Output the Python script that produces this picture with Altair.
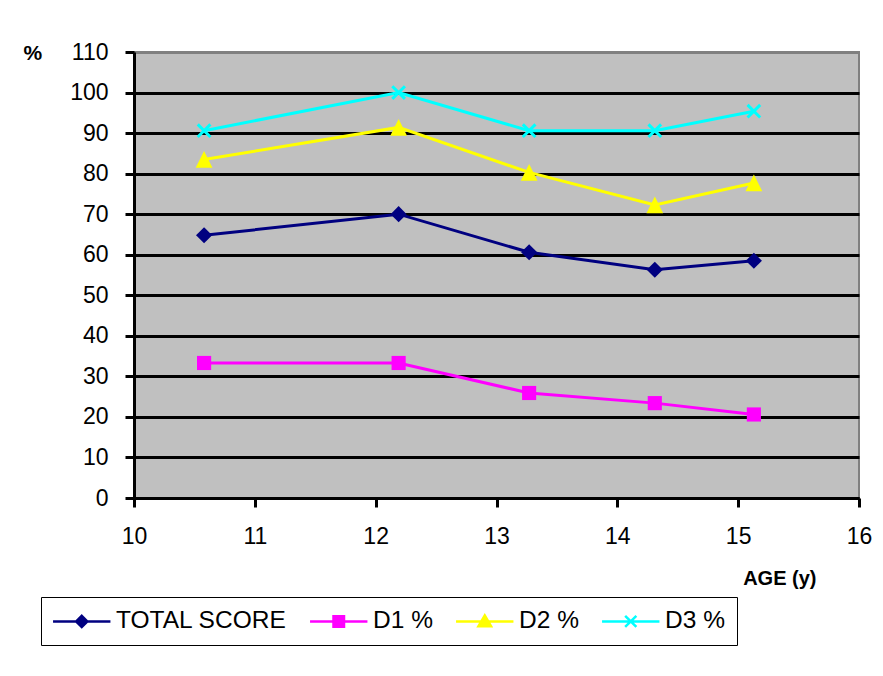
import altair as alt
import pandas as pd

# ---- data ----
ages = [10.58, 12.19, 13.27, 14.31, 15.13]
series_names = ["TOTAL SCORE", "D1 %", "D2 %", "D3 %"]
total_score = [64.8, 70.0, 60.6, 56.3, 58.5]
d1 = [33.3, 33.3, 25.9, 23.4, 20.6]
d2 = [83.5, 91.4, 80.3, 72.3, 77.7]
d3 = [90.6, 100.0, 90.6, 90.6, 95.4]
x_ticks = [10, 11, 12, 13, 14, 15, 16]
y_ticks = [0, 10, 20, 30, 40, 50, 60, 70, 80, 90, 100, 110]

colors = ["#000080", "#FF00FF", "#FFFF00", "#00FFFF"]

rows = []
for name, vals in zip(series_names, [total_score, d1, d2, d3]):
    for a, v in zip(ages, vals):
        rows.append({"series": name, "age": a, "value": v})
df = pd.DataFrame(rows)

FONT = "Liberation Sans"

x_enc = alt.X("age:Q",
              scale=alt.Scale(domain=[10, 16], nice=False, zero=False),
              axis=alt.Axis(values=x_ticks, format="d", grid=False, labelFlush=False,
                            labelPadding=18, labelFont=FONT, labelFontSize=23,
                            labelColor="black", tickSize=9, tickWidth=3, tickColor="black",
                            domainColor="black", domainWidth=3,
                            title="AGE (y)", titleFont=FONT, titleFontSize=20,
                            titleFontWeight="bold", titleColor="black",
                            titleX=682, titleY=80, titleAlign="right",
                            titleBaseline="middle"))
y_enc = alt.Y("value:Q",
              scale=alt.Scale(domain=[0, 110], nice=False),
              axis=alt.Axis(values=y_ticks, format="d", grid=True,
                            gridColor=alt.condition("datum.value >= 110", alt.value("#808080"), alt.value("black")),
                            gridWidth=3, labelPadding=17, labelFont=FONT, labelFontSize=23,
                            labelColor="black", tickSize=9, tickWidth=3, tickColor="black",
                            domainColor="black", domainWidth=3,
                            title="%", titleAngle=0, titleFont=FONT, titleFontSize=21,
                            titleFontWeight="bold", titleColor="black",
                            titleX=-111, titleY=1, titleAlign="left",
                            titleBaseline="middle"))

dia_path = "M0,-1L1,0L0,1L-1,0Z"
sq_path = "M-1,-1H1V1H-1Z"
tri_path = "M0,-1L1,1L-1,1Z"
x_path = "M-1,-1L1,1M-1,1L1,-1"

marker_specs = [
    ("TOTAL SCORE", dict(shape=dia_path, size=260, filled=True)),
    ("D1 %", dict(shape=sq_path, size=200, filled=True)),
    ("D2 %", dict(shape=tri_path, size=280, filled=True)),
    ("D3 %", dict(shape=x_path, size=160, filled=False, strokeWidth=3)),
]

layers = []
for (name, spec), col in zip(marker_specs, colors):
    base = alt.Chart(df).transform_filter(alt.datum.series == name)
    layers.append(
        base.mark_line(color=col, strokeWidth=3).encode(x=x_enc, y=y_enc, order=alt.Order("age:Q"))
    )
for (name, spec), col in zip(marker_specs, colors):
    base = alt.Chart(df).transform_filter(alt.datum.series == name)
    layers.append(
        base.mark_point(color=col, opacity=1, **spec).encode(x=x_enc, y=y_enc)
    )

# legend symbols: line segment + marker (markers drawn as concentric outlines)
leg_line = "M-4.1,0H4.1"
leg_diamond = leg_line + "M0,-0.8L0.8,0L0,0.8L-0.8,0ZM0,-0.5L0.5,0L0,0.5L-0.5,0ZM0,-0.2L0.2,0L0,0.2L-0.2,0Z"
leg_square = leg_line + "M-0.75,-0.75H0.75V0.75H-0.75ZM-0.45,-0.45H0.45V0.45H-0.45ZM-0.15,-0.15H0.15V0.15H-0.15Z"
leg_tri = leg_line + "M0,-0.85L0.9,0.7L-0.9,0.7ZM0,-0.44L0.54,0.49L-0.54,0.49ZM0,-0.08L0.23,0.31L-0.23,0.31Z"
leg_x = leg_line + "M-0.8,-0.8L0.8,0.8M-0.8,0.8L0.8,-0.8"
legend_paths = [leg_diamond, leg_square, leg_tri, leg_x]

legend_props = dict(
    orient="none", legendX=-93, legendY=545, direction="horizontal", columns=4,
    title=None, labelFont=FONT, labelFontSize=24.5, labelColor="black", labelLimit=400,
    symbolSize=196, symbolStrokeWidth=2.5, symbolOpacity=1,
    symbolOffset=16.5, labelOffset=22, columnPadding=18, padding=12,
    strokeColor="black", fillColor="white",
)

# invisible layer that only drives the legend
legend_layer = alt.Chart(df).mark_point(
    filled=False, opacity=0, strokeWidth=2.5
).encode(
    x=x_enc, y=y_enc,
    color=alt.Color("series:N", scale=alt.Scale(domain=series_names, range=colors),
                    sort=series_names, legend=alt.Legend(**legend_props)),
    shape=alt.Shape("series:N", scale=alt.Scale(domain=series_names, range=legend_paths),
                    sort=series_names, legend=alt.Legend(**legend_props)),
)
layers.append(legend_layer)

chart = alt.layer(*layers).properties(
    width=725, height=446,
    autosize=alt.AutoSizeParams(type="none"),
    padding={"left": 126, "top": 44, "right": 16, "bottom": 170},
    background="white",
).configure_view(
    fill="#C0C0C0", stroke="#808080", strokeWidth=2
)

chart.save("out.html", embed_options={"renderer": "svg", "actions": False})
